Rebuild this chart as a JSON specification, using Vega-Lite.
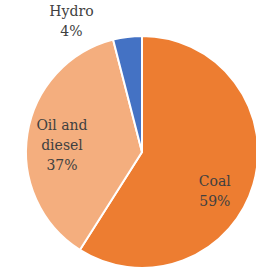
{
  "$schema": "https://vega.github.io/schema/vega-lite/v6.json",
  "autosize": "none",
  "width": 228,
  "height": 232,
  "padding": {"left": 28, "top": 36, "right": 0, "bottom": 0},
  "background": "white",
  "config": {"view": {"stroke": null}, "font": "DejaVu Serif"},
  "data": {"values": [
    {"source": "Coal", "share": 59, "order": 1, "label": "Coal\n59%"},
    {"source": "Oil and diesel", "share": 37, "order": 2, "label": "Oil and\ndiesel\n37%"},
    {"source": "Hydro", "share": 4, "order": 3, "label": "Hydro\n4%"}
  ]},
  "encoding": {
    "theta": {"field": "share", "type": "quantitative", "stack": true},
    "order": {"field": "order", "type": "quantitative"}
  },
  "layer": [
    {
      "mark": {"type": "arc", "outerRadius": 116, "stroke": "white", "strokeWidth": 2},
      "encoding": {
        "color": {"field": "source", "type": "nominal", "legend": null,
          "scale": {"domain": ["Coal", "Oil and diesel", "Hydro"], "range": ["#ED7D31", "#F4AE7E", "#4472C4"]}}
      }
    },
    {
      "mark": {"type": "text", "radius": 80, "dx": -4, "dy": 8, "font": "DejaVu Serif", "fontSize": 14, "color": "#404040", "lineBreak": "\n", "lineHeight": 20, "align": "center", "baseline": "middle"},
      "encoding": {"text": {"condition": {"test": "datum.source === 'Coal'", "field": "label"}, "value": ""}}
    },
    {
      "mark": {"type": "text", "radius": 80, "dx": -1, "dy": -13.5, "font": "DejaVu Serif", "fontSize": 14, "color": "#404040", "lineBreak": "\n", "lineHeight": 20, "align": "center", "baseline": "middle"},
      "encoding": {"text": {"condition": {"test": "datum.source === 'Oil and diesel'", "field": "label"}, "value": ""}}
    },
    {
      "mark": {"type": "text", "radius": 148, "dx": -52, "dy": 7, "font": "DejaVu Serif", "fontSize": 14, "color": "#404040", "lineBreak": "\n", "lineHeight": 20, "align": "center", "baseline": "middle"},
      "encoding": {"text": {"condition": {"test": "datum.source === 'Hydro'", "field": "label"}, "value": ""}}
    }
  ]
}
